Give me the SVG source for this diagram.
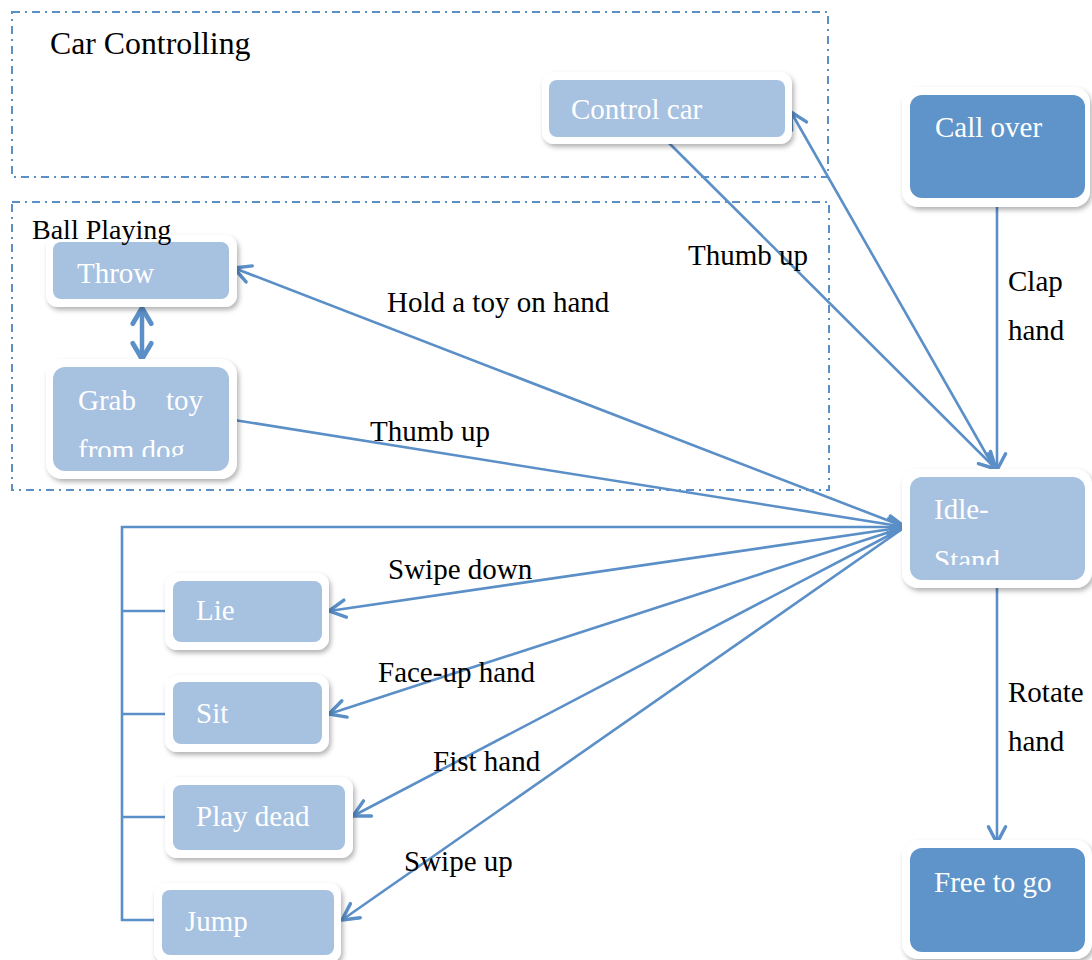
<svg xmlns="http://www.w3.org/2000/svg" width="1092" height="960" viewBox="0 0 1092 960">
  <defs>
    <filter id="shadow" x="-10%" y="-10%" width="130%" height="140%">
      <feDropShadow dx="2" dy="3" stdDeviation="2.5" flood-color="#000" flood-opacity="0.3"/>
    </filter>
    <marker id="arrow" viewBox="0 0 14 14" refX="12.5" refY="7" markerWidth="24" markerHeight="24" markerUnits="userSpaceOnUse" orient="auto-start-reverse">
      <path d="M3,2 L12.5,7 L3,12" fill="none" stroke="#5b8fc7" stroke-width="2" stroke-linecap="round" stroke-linejoin="round"/>
    </marker>
    <marker id="arrowBold" viewBox="0 0 14 14" refX="12" refY="7" markerWidth="26" markerHeight="26" markerUnits="userSpaceOnUse" orient="auto-start-reverse">
      <path d="M3,2 L11.5,7 L3,12" fill="none" stroke="#5b8fc7" stroke-width="2.6" stroke-linecap="round" stroke-linejoin="round"/>
    </marker>
    <clipPath id="clipGrab"><rect x="53" y="367" width="176" height="90"/></clipPath>
    <clipPath id="clipIdle"><rect x="910" y="477" width="175" height="88"/></clipPath>
  </defs>
  <style>
    .frame { fill: none; stroke: #5b8fc7; stroke-width: 2; stroke-dasharray: 8 5 2 5; }
    .outer { fill: #ffffff; filter: url(#shadow); }
    .light { fill: #a7c1e1; }
    .dark { fill: #5e94c9; }
    .ntext { font-family: "Liberation Serif", "Times New Roman", serif; font-size: 29px; fill: #ffffff; }
    .label { font-family: "Liberation Serif", "Times New Roman", serif; font-size: 29px; fill: #000000; }
    .conn { fill: none; stroke: #5b8fc7; stroke-width: 2.6; }
  </style>

  <!-- Group frames -->
  <g id="group-car">
    <rect class="frame" x="12" y="12" width="816" height="165"/>
  </g>
  <g id="group-ball">
    <rect class="frame" x="12" y="202" width="817" height="288"/>
  </g>

  <!-- Connectors -->
  <g id="connectors">
    <!-- Control car <-> Idle-Stand -->
    <line class="conn" x1="668" y1="142" x2="996" y2="469" marker-end="url(#arrow)"/>
    <line class="conn" x1="993" y1="466" x2="791" y2="112" marker-end="url(#arrow)"/>
    <!-- Call over -> Idle-Stand -->
    <line class="conn" x1="997" y1="206" x2="997" y2="470" marker-end="url(#arrow)"/>
    <!-- Idle-Stand -> Free to go -->
    <line class="conn" x1="997" y1="588" x2="997" y2="843" marker-end="url(#arrow)"/>
    <!-- Idle-Stand -> Throw -->
    <line class="conn" x1="905" y1="527" x2="234" y2="268" marker-end="url(#arrow)"/>
    <!-- Grab toy -> Idle-Stand -->
    <line class="conn" x1="234" y1="420" x2="905" y2="527" marker-end="url(#arrow)"/>
    <!-- Throw <-> Grab toy -->
    <line class="conn" x1="142" y1="307" x2="142" y2="360" style="stroke-width:4.5" marker-start="url(#arrowBold)" marker-end="url(#arrowBold)"/>
    <!-- Bus from command nodes back to Idle-Stand -->
    <polyline class="conn" points="168,611 122,611"/>
    <polyline class="conn" points="168,714 122,714"/>
    <polyline class="conn" points="168,817 122,817"/>
    <polyline class="conn" points="157,920 122,920 122,527 905,527" marker-end="url(#arrow)"/>
    <!-- Idle-Stand -> commands -->
    <line class="conn" x1="905" y1="527" x2="329" y2="611" marker-end="url(#arrow)"/>
    <line class="conn" x1="905" y1="527" x2="329" y2="714" marker-end="url(#arrow)"/>
    <line class="conn" x1="905" y1="527" x2="353" y2="816" marker-end="url(#arrow)"/>
    <line class="conn" x1="905" y1="527" x2="342" y2="920" marker-end="url(#arrow)"/>
  </g>

  <!-- Connector labels -->
  <g id="labels">
    <text class="label" x="688" y="265">Thumb up</text>
    <text class="label" x="387" y="312">Hold a toy on hand</text>
    <text class="label" x="370" y="441">Thumb up</text>
    <text class="label" x="1008" y="291">Clap</text>
    <text class="label" x="1008" y="340">hand</text>
    <text class="label" x="1008" y="702">Rotate</text>
    <text class="label" x="1008" y="751">hand</text>
    <text class="label" x="388" y="579">Swipe down</text>
    <text class="label" x="378" y="682">Face-up hand</text>
    <text class="label" x="433" y="771">Fist hand</text>
    <text class="label" x="404" y="871">Swipe up</text>
  </g>

  <!-- Nodes -->
  <g id="node-control-car">
    <rect class="outer" x="542" y="72" width="250" height="72" rx="12"/>
    <rect class="light" x="549" y="80" width="236" height="57" rx="8"/>
    <text class="ntext" x="571" y="119">Control car</text>
  </g>
  <g id="node-call-over">
    <rect class="outer" x="902" y="87" width="188" height="120" rx="16"/>
    <rect class="dark" x="910" y="95" width="175" height="103" rx="12"/>
    <text class="ntext" x="935" y="137">Call over</text>
  </g>
  <g id="node-throw">
    <rect class="outer" x="46" y="235" width="191" height="72" rx="12"/>
    <rect class="light" x="53" y="242" width="176" height="57" rx="8"/>
    <text class="ntext" x="77" y="283">Throw</text>
  </g>
  <g id="node-grab-toy">
    <rect class="outer" x="46" y="359" width="191" height="120" rx="16"/>
    <rect class="light" x="53" y="367" width="176" height="104" rx="12"/>
    <g clip-path="url(#clipGrab)">
      <text class="ntext" x="78" y="410">Grab<tspan x="166">toy</tspan></text>
      <text class="ntext" x="78" y="460">from dog</text>
    </g>
  </g>
  <g id="node-idle-stand">
    <rect class="outer" x="902" y="469" width="190" height="119" rx="16"/>
    <rect class="light" x="910" y="477" width="175" height="103" rx="12"/>
    <g clip-path="url(#clipIdle)">
      <text class="ntext" x="934" y="519">Idle-</text>
      <text class="ntext" x="934" y="570">Stand</text>
    </g>
  </g>
  <g id="node-free-to-go">
    <rect class="outer" x="902" y="840" width="190" height="119" rx="16"/>
    <rect class="dark" x="910" y="848" width="175" height="104" rx="12"/>
    <text class="ntext" x="934" y="892">Free to go</text>
  </g>
  <g id="node-lie">
    <rect class="outer" x="165" y="573" width="164" height="77" rx="12"/>
    <rect class="light" x="173" y="581" width="149" height="61" rx="8"/>
    <text class="ntext" x="196" y="620">Lie</text>
  </g>
  <g id="node-sit">
    <rect class="outer" x="165" y="675" width="164" height="77" rx="12"/>
    <rect class="light" x="173" y="682" width="149" height="62" rx="8"/>
    <text class="ntext" x="196" y="723">Sit</text>
  </g>
  <g id="node-play-dead">
    <rect class="outer" x="165" y="777" width="188" height="81" rx="12"/>
    <rect class="light" x="173" y="785" width="172" height="65" rx="8"/>
    <text class="ntext" x="196" y="826">Play dead</text>
  </g>
  <g id="node-jump">
    <rect class="outer" x="154" y="883" width="187" height="80" rx="12"/>
    <rect class="light" x="162" y="890" width="172" height="65" rx="8"/>
    <text class="ntext" x="185" y="931">Jump</text>
  </g>

  <!-- Group titles, drawn above the nodes -->
  <g id="group-titles">
    <text class="label" x="50" y="54" style="font-size:31.8px">Car Controlling</text>
    <text class="label" x="32" y="239" style="font-size:28px">Ball Playing</text>
  </g>
</svg>
